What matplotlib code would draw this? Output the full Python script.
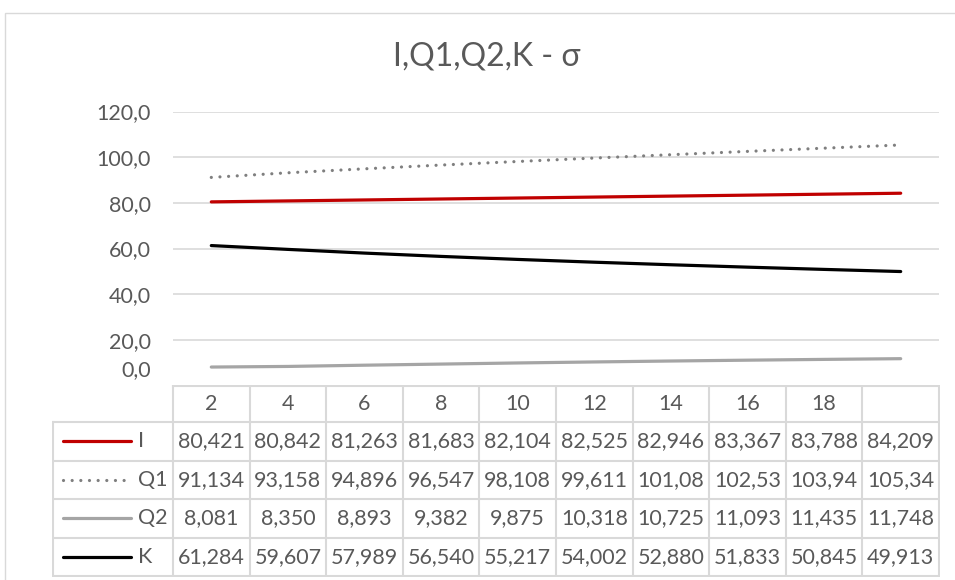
import matplotlib
matplotlib.use("Agg")
import matplotlib.pyplot as plt
import matplotlib.transforms as mtransforms
from matplotlib.patches import Rectangle

# datos del grafico
categorias = ['2', '4', '6', '8', '10', '12', '14', '16', '18', '']
series = ['I', 'Q1', 'Q2', 'K']
I = [80.421, 80.842, 81.263, 81.683, 82.104, 82.525, 82.946, 83.367, 83.788, 84.209]
Q1 = [91.134, 93.158, 94.896, 96.547, 98.108, 99.611, 101.08, 102.53, 103.94, 105.34]
Q2 = [8.081, 8.350, 8.893, 9.382, 9.875, 10.318, 10.725, 11.093, 11.435, 11.748]
K = [61.284, 59.607, 57.989, 56.540, 55.217, 54.002, 52.880, 51.833, 50.845, 49.913]
y_ticks = [0, 20, 40, 60, 80, 100, 120]

valores = [I, Q1, Q2, K]
estilos = [
    dict(color='#C00000', lw=2.3, solid_capstyle='round'),
    dict(color='#7F7F7F', lw=2.3, linestyle=(0, (0.01, 2.7)), dash_capstyle='round'),
    dict(color='#A5A5A5', lw=2.3, solid_capstyle='round'),
    dict(color='#000000', lw=2.3, solid_capstyle='round'),
]

texto = '#595959'
rejilla = '#D9D9D9'
fuente = 'Lato'
tam = 15.5

W, H = 955, 580
fig = plt.figure(figsize=(W / 100, H / 100), dpi=100)


def caja(x0, y0, x1, y1):
    # pixeles (origen arriba-izquierda) -> coordenadas de figura
    return [x0 / W, 1 - y1 / H, (x1 - x0) / W, (y1 - y0) / H]


# borde del area del grafico
fig.patches.append(Rectangle((5 / W, -0.1), 1.2, 1 - 13 / H + 0.1, transform=fig.transFigure,
                             fill=False, edgecolor=rejilla, lw=1))

# titulo
fig.text(487 / W, 1 - 57 / H, 'I,Q1,Q2,K - σ', ha='center', va='center',
         fontsize=23, color=texto, family=fuente)

# area de trazado
x_izq, x_der = 173, 939
y_top, y_cero = 111.5, 385.5
ax = fig.add_axes(caja(x_izq, y_top, x_der, y_cero))
ax.set_xlim(-0.5, len(categorias) - 0.5)
ax.set_ylim(0, 120)
for v, e in zip(valores, estilos):
    ax.plot(range(len(v)), v, **e, zorder=3)
ax.set_yticks(y_ticks)
ax.set_yticklabels([f'{t:.1f}'.replace('.', ',') for t in y_ticks])
ax.tick_params(axis='y', length=0, pad=16, labelsize=tam, labelcolor=texto)
for lab in ax.get_yticklabels():
    lab.set_family(fuente)
# la etiqueta 0,0 queda por encima de la tabla
cero = ax.get_yticklabels()[0]
cero.set_va('bottom')
cero.set_transform(cero.get_transform() + mtransforms.ScaledTranslation(0, 4 / 72, fig.dpi_scale_trans))
ax.set_xticks([])
ax.grid(axis='y', color=rejilla, lw=1.2)
ax.set_axisbelow(True)
for s in ax.spines.values():
    s.set_visible(False)
ax.patch.set_alpha(0)

# tabla de datos
y_filas = [385.5, 422, 460.5, 499, 537.5, 576]
x_tabla = 53
ancho = (x_der - x_izq) / len(categorias)
x_cols = [x_izq + i * ancho for i in range(len(categorias) + 1)]

tab = fig.add_axes(caja(x_tabla - 1, y_filas[0] - 1, x_der + 1, y_filas[-1] + 1))
tab.set_xlim(x_tabla - 1, x_der + 1)
tab.set_ylim(y_filas[-1] + 1, y_filas[0] - 1)
tab.axis('off')

for y in y_filas:
    x0 = x_izq if y == y_filas[0] else x_tabla
    tab.plot([x0, x_der], [y, y], color=rejilla, lw=1.5)
tab.plot([x_tabla, x_tabla], [y_filas[1], y_filas[-1]], color=rejilla, lw=1.5)
for x in x_cols:
    tab.plot([x, x], [y_filas[0], y_filas[-1]], color=rejilla, lw=1.5)


def fmt(v):
    d = 3 if v < 100 else 2
    return f'{v:.{d}f}'.replace('.', ',')


yc = (y_filas[0] + y_filas[1]) / 2
for i, c in enumerate(categorias):
    tab.text((x_cols[i] + x_cols[i + 1]) / 2, yc, c, ha='center', va='center',
             fontsize=tam, color=texto, family=fuente)

for r, (nombre, v, e) in enumerate(zip(series, valores, estilos)):
    yc = (y_filas[r + 1] + y_filas[r + 2]) / 2
    tab.plot([63, 131], [yc, yc], **e)
    tab.text(138, yc, nombre, ha='left', va='center', fontsize=tam, color=texto, family=fuente)
    for i, val in enumerate(v):
        tab.text((x_cols[i] + x_cols[i + 1]) / 2, yc, fmt(val), ha='center', va='center',
                 fontsize=tam, color=texto, family=fuente)

fig.savefig('out.png', dpi=100)
